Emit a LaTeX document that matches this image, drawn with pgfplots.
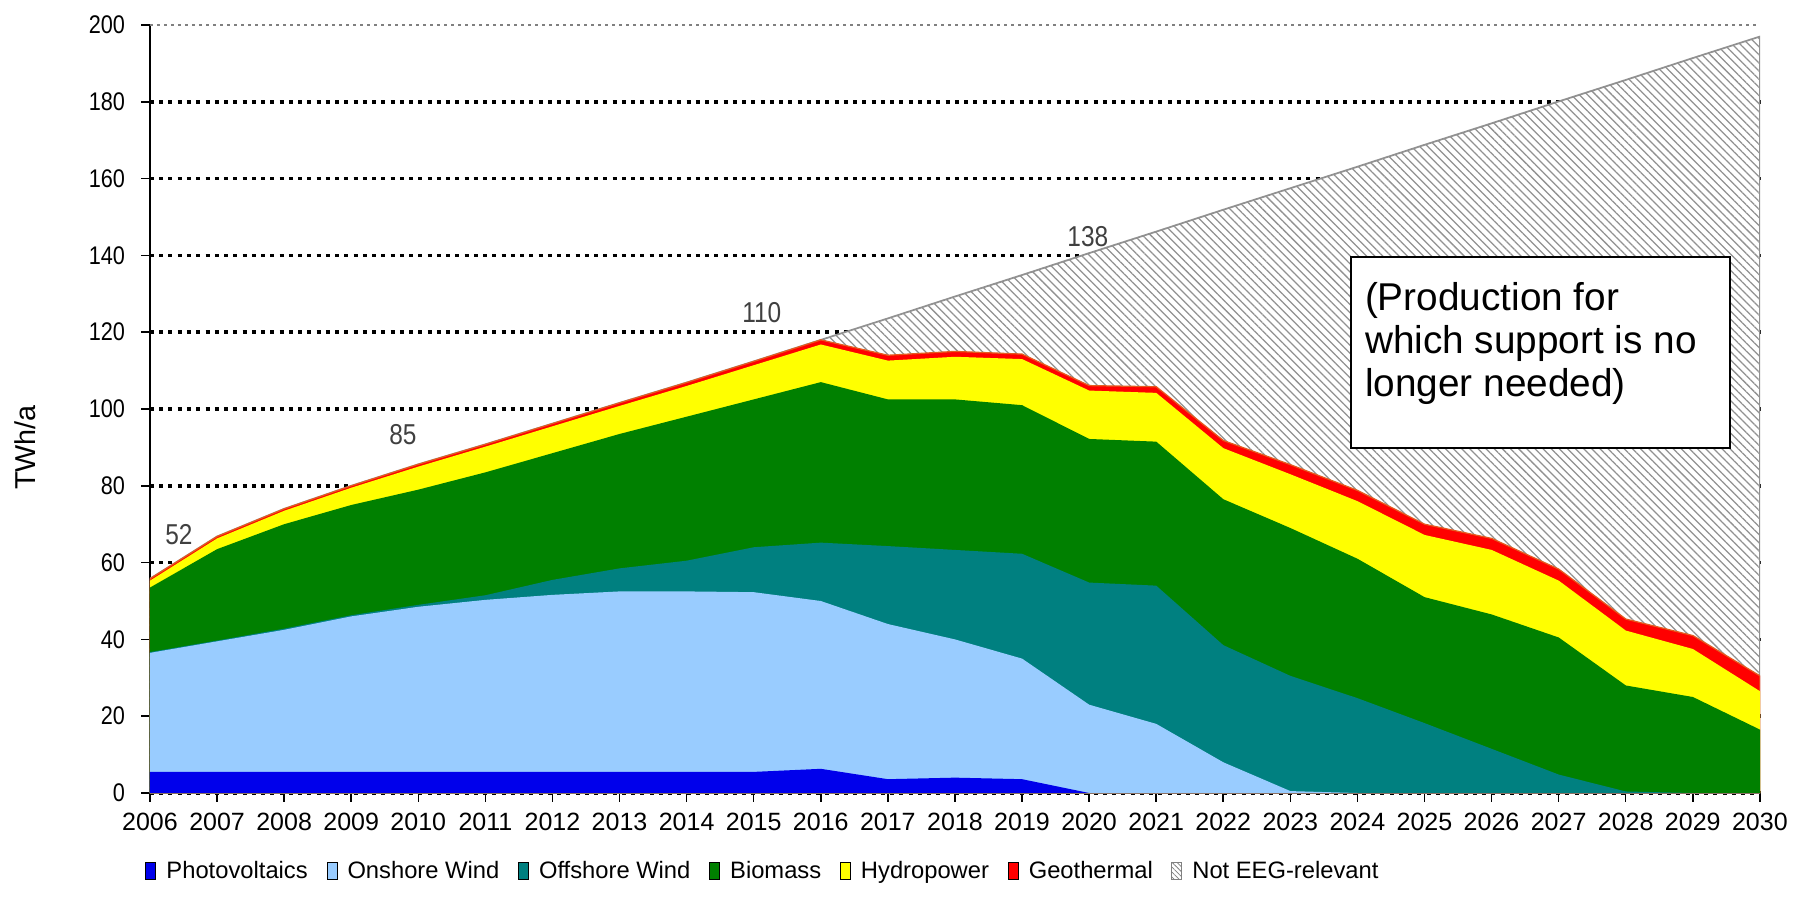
\documentclass[border=0pt]{standalone}
\usepackage{fontspec}
\setmainfont{Liberation Sans}
\newfontfamily\narrowfont[FakeStretch=0.85]{Liberation Sans}
\usepackage{pgfplots}
\pgfplotsset{compat=1.18}
\usepackage{pgfplotstable}
\usetikzlibrary{patterns.meta}

\definecolor{pvblue}{RGB}{0,0,235}
\definecolor{onshore}{RGB}{153,204,255}
\definecolor{offshore}{RGB}{0,128,128}
\definecolor{biomass}{RGB}{0,128,0}
\definecolor{hydro}{RGB}{255,255,0}
\definecolor{geo}{RGB}{255,0,0}
\definecolor{hatchgray}{RGB}{145,145,145}
\definecolor{edgeorange}{RGB}{230,90,30}

% cumulative upper edge of each layer (TWh/a)
\pgfplotstableread{
year pv  on   off  bio   hyd   geo   hatch
2006 5.5 36.5 36.7 53.5  55.3  55.8  55.8
2007 5.5 39.5 39.7 63.5  66.3  66.8  66.8
2008 5.5 42.5 42.8 70    73.5  74    74
2009 5.5 46   46.3 75    79.5  80    80
2010 5.5 48.5 49   79    85    85.6  85.6
2011 5.5 50.3 51.5 83.5  90.2  90.8  90.8
2012 5.5 51.6 55.5 88.5  95.5  96.2  96.2
2013 5.5 52.5 58.5 93.5  100.8 101.6 101.6
2014 5.5 52.5 60.5 98    106   106.9 106.9
2015 5.5 52.3 64   102.5 111.4 112.4 112.4
2016 6.3 50   65.2 107   116.8 118   118
2017 3.6 44   64.3 102.5 112.6 114   123.6
2018 4   40   63.3 102.5 113.6 115   129.3
2019 3.6 35   62.3 101   113   114.3 134.9
2020 0   23   54.8 92.2  104.8 106.1 140.6
2021 0   18   54   91.5  104.2 105.8 146.2
2022 0   8    38.5 76.5  89.8  91.8  151.9
2023 0   0.5  30.5 69    83    85.5  157.5
2024 0   0    24.7 61    76    78.8  163.1
2025 0   0    18.2 51    67.2  70    168.8
2026 0   0    11.5 46.5  63.3  66.3  174.4
2027 0   0    4.8  40.5  55.3  58.3  180.1
2028 0   0    0.4  28    42.3  45.3  185.7
2029 0   0    0    25    37.5  41    191.4
2030 0   0    0    16.5  26.5  30.5  197
}\datatable

\begin{document}
\begin{tikzpicture}
\begin{axis}[
    width=644pt, height=307.2pt, scale only axis,
    xmin=2006, xmax=2030, ymin=0, ymax=200,
    xtick={2006,...,2030},
    ytick={0,20,...,180},
    extra y ticks={200},
    extra y tick style={grid style={draw=gray, line width=0.9pt, dash pattern=on 1.2pt off 1.6pt}},
    axis x line*=bottom, axis y line*=left,
    axis line style={black, line width=0.6pt},
    tick align=outside, major tick length=3.5pt,
    tick style={black, line width=0.6pt},
    ymajorgrids,
    grid style={black, line width=1.5pt, dash pattern=on 1.6pt off 2.1pt},
    /pgf/number format/assume math mode=true,
    x tick label style={font=\fontsize{10}{11}\selectfont, /pgf/number format/1000 sep={}, yshift=-1pt},
    y tick label style={font=\fontsize{10.2}{11}\narrowfont, xshift=-3pt},
    every axis y label/.style={at={(axis description cs:-0.0776,0.45)}, rotate=90, anchor=center,
        font=\fontsize{11.5}{13}\selectfont},
    ylabel={TWh/a},
    legend columns=-1,
    legend style={at={(0,0)}, anchor=north west, yshift=-25pt, xshift=-2pt,
        draw=none, fill=none, inner sep=0pt,
        font=\fontsize{9.5}{11}\selectfont,
        /tikz/every odd column/.append style={column sep=2pt},
        /tikz/every even column/.append style={column sep=5.5pt}},
    legend image code/.code={\draw[#1] (0pt,-3.2pt) rectangle (4pt,3.4pt);},
]
% drawn from the top layer down, each one painted over the one above
\addplot[forget plot, fill=white, draw=none] table[x=year, y=hatch] {\datatable} \closedcycle;
\addplot[forget plot, draw=hatchgray, line width=0.7pt,
    pattern={Lines[angle=-45, distance=2.3pt, line width=0.5pt]}, pattern color=hatchgray]
    table[x=year, y=hatch] {\datatable} \closedcycle;
\addplot[forget plot, fill=geo, draw=edgeorange, line width=0.5pt] table[x=year, y=geo] {\datatable} \closedcycle;
\addplot[forget plot, fill=hydro, draw=none] table[x=year, y=hyd] {\datatable} \closedcycle;
\addplot[forget plot, fill=biomass, draw=none] table[x=year, y=bio] {\datatable} \closedcycle;
\addplot[forget plot, fill=offshore, draw=none] table[x=year, y=off] {\datatable} \closedcycle;
\addplot[forget plot, fill=onshore, draw=none] table[x=year, y=on] {\datatable} \closedcycle;
\addplot[forget plot, fill=pvblue, draw=none] table[x=year, y=pv] {\datatable} \closedcycle;

\addlegendimage{draw=none, fill=pvblue}
\addlegendentry{Photovoltaics}
\addlegendimage{draw=none, fill=onshore}
\addlegendentry{Onshore Wind}
\addlegendimage{draw=none, fill=offshore}
\addlegendentry{Offshore Wind}
\addlegendimage{draw=none, fill=biomass}
\addlegendentry{Biomass}
\addlegendimage{draw=none, fill=hydro}
\addlegendentry{Hydropower}
\addlegendimage{draw=none, fill=geo}
\addlegendentry{Geothermal}
\addlegendimage{draw=gray, line width=0.4pt, pattern={Lines[angle=-45, distance=1.4pt, line width=0.3pt]}, pattern color=gray}
\addlegendentry{Not EEG-relevant}

\node[font=\fontsize{11.5}{13}\narrowfont, text=black!75] at (axis cs:2006.43,67.4) {52};
\node[font=\fontsize{11.5}{13}\narrowfont, text=black!75] at (axis cs:2009.77,93.4) {85};
\node[font=\fontsize{11.5}{13}\narrowfont, text=black!75] at (axis cs:2015.12,125) {110};
\node[font=\fontsize{11.5}{13}\narrowfont, text=black!75] at (axis cs:2019.98,145) {138};

\draw[black, line width=0.8pt, fill=white] (axis cs:2023.9,139.5) rectangle (axis cs:2029.55,89.8);
\node[anchor=north west, align=left, inner sep=0pt, font=\fontsize{15.5}{17.2}\selectfont]
    at ([xshift=5.5pt, yshift=-10pt]axis cs:2023.9,139.5)
    {(Production for\\which support is no\\longer needed)};

\coordinate (ll) at (rel axis cs:0,0);
\coordinate (ur) at (rel axis cs:1,1);
\end{axis}
\pgfresetboundingbox
\path ([shift={(-60pt,-42pt)}]ll) rectangle ([shift={(17.2pt,10pt)}]ur);
\end{tikzpicture}
\end{document}
